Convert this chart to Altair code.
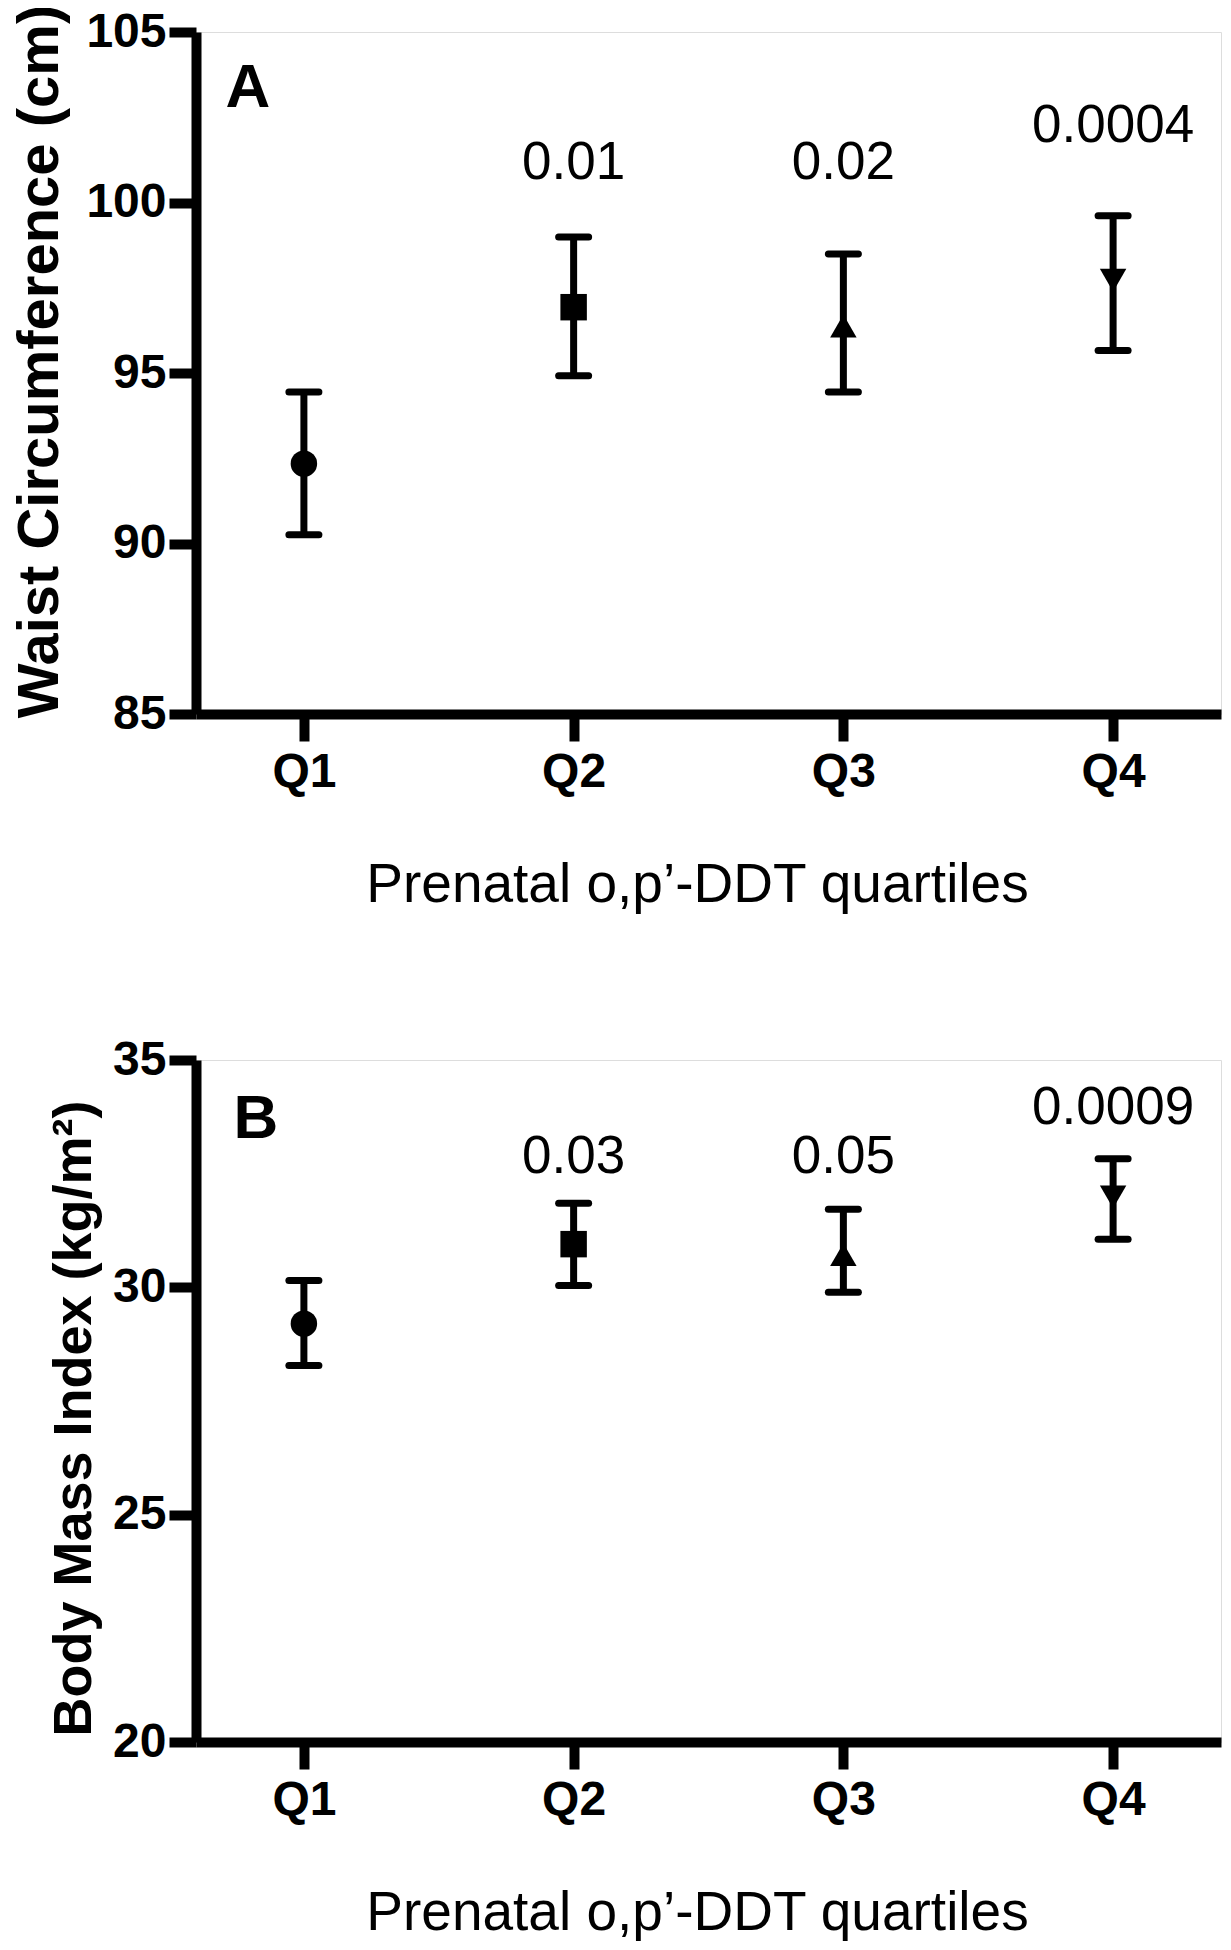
import altair as alt
import pandas as pd

FONT = "Liberation Sans"

quartiles = ["Q1", "Q2", "Q3", "Q4"]
shapes = ["circle", "square", "triangle-up", "triangle-down"]

waist_mean = [92.34, 96.93, 96.38, 97.72]
waist_lo = [90.26, 94.92, 94.44, 95.66]
waist_hi = [94.44, 98.99, 98.49, 99.61]
waist_p_q = ["Q2", "Q3", "Q4"]
waist_p_txt = ["0.01", "0.02", "0.0004"]
waist_p_pos = [101.15, 101.15, 102.25]
waist_ticks = [85, 90, 95, 100, 105]

bmi_mean = [29.20, 30.95, 30.72, 31.99]
bmi_lo = [28.28, 30.04, 29.89, 31.06]
bmi_hi = [30.15, 31.85, 31.72, 32.83]
bmi_p_q = ["Q2", "Q3", "Q4"]
bmi_p_txt = ["0.03", "0.05", "0.0009"]
bmi_p_pos = [32.87, 32.87, 33.94]
bmi_ticks = [20, 25, 30, 35]

X_TITLE = "Prenatal o,p\u2019-DDT quartiles"


def panel(mean, lo, hi, pq, ptxt, ppos, ticks, ytitle, ytitle_size, letter,
          title_x, title_y, letter_x, letter_y):
    df = pd.DataFrame({"q": quartiles, "shape": shapes, "mean": mean, "lo": lo, "hi": hi})
    pdf = pd.DataFrame({"q": pq, "p": ptxt, "ppos": ppos})
    ldf = pd.DataFrame({"t": [letter]})

    xscale = alt.Scale(type="point", padding=0.4, domain=quartiles)
    yscale = alt.Scale(domain=[ticks[0], ticks[-1]], nice=False, zero=False)

    xaxis = alt.Axis(
        title=X_TITLE, labelAngle=0, grid=False,
        labelFont=FONT, labelFontSize=48, labelFontWeight="bold", labelColor="black",
        labelBaseline="alphabetic", labelPadding=45,
        tickSize=27, tickWidth=10, tickColor="black",
        domainWidth=10, domainColor="black",
        titleFont=FONT, titleFontSize=55, titleFontWeight="normal", titleColor="black",
        titleBaseline="alphabetic", titleY=187, titleX=501,
    )
    yaxis = alt.Axis(
        title=ytitle, values=ticks, grid=False,
        labelFont=FONT, labelFontSize=48, labelFontWeight="bold", labelColor="black",
        labelPadding=3, labelFlush=False, labelOverlap=False,
        tickSize=27, tickWidth=10, tickColor="black",
        domainWidth=10, domainColor="black",
        titleFont=FONT, titleFontSize=ytitle_size, titleFontWeight="bold", titleColor="black",
        titleX=title_x, titleY=title_y,
    )

    base = alt.Chart(df)
    x = alt.X("q:N", scale=xscale, axis=xaxis)

    bars = base.mark_rule(strokeWidth=7, color="black").encode(
        x=x, y=alt.Y("lo:Q", scale=yscale, axis=yaxis), y2="hi:Q"
    )
    cap_lo = base.mark_rule(strokeWidth=7, color="black", strokeCap="round",
                            xOffset=-15, x2Offset=15).encode(
        x=alt.X("q:N"), x2=alt.X2("q:N"), y=alt.Y("lo:Q")
    )
    cap_hi = base.mark_rule(strokeWidth=7, color="black", strokeCap="round",
                            xOffset=-15, x2Offset=15).encode(
        x=alt.X("q:N"), x2=alt.X2("q:N"), y=alt.Y("hi:Q")
    )
    pts = base.mark_point(filled=True, size=700, color="black", opacity=1).encode(
        x=alt.X("q:N"), y=alt.Y("mean:Q"),
        shape=alt.Shape("shape:N", scale=None),
    )
    ptext = alt.Chart(pdf).mark_text(font=FONT, fontSize=53, color="black",
                                     align="center", baseline="middle").encode(
        x=alt.X("q:N"), y=alt.Y("ppos:Q"), text="p:N"
    )
    lab = alt.Chart(ldf).mark_text(font=FONT, fontSize=62, fontWeight="bold", color="black",
                                   align="center", baseline="alphabetic").encode(
        x=alt.value(letter_x), y=alt.value(letter_y), text="t:N"
    )
    return alt.layer(bars, cap_lo, cap_hi, pts, ptext, lab).properties(width=1025, height=682)


a = panel(waist_mean, waist_lo, waist_hi, waist_p_q, waist_p_txt, waist_p_pos,
          waist_ticks, "Waist Circumference (cm)", 58, "A", -127, 329, 52, 75)
b = panel(bmi_mean, bmi_lo, bmi_hi, bmi_p_q, bmi_p_txt, bmi_p_pos,
          bmi_ticks, "Body Mass Index  (kg/m\u00b2)", 54, "B", -95, 358, 60, 78)

chart = alt.vconcat(a, b, spacing=122).properties(
    padding={"left": 2, "top": -5, "right": 0, "bottom": 0}
).configure_view(stroke=None).configure(background="white")

chart.save("out.html", embed_options={"renderer": "svg", "actions": False})
